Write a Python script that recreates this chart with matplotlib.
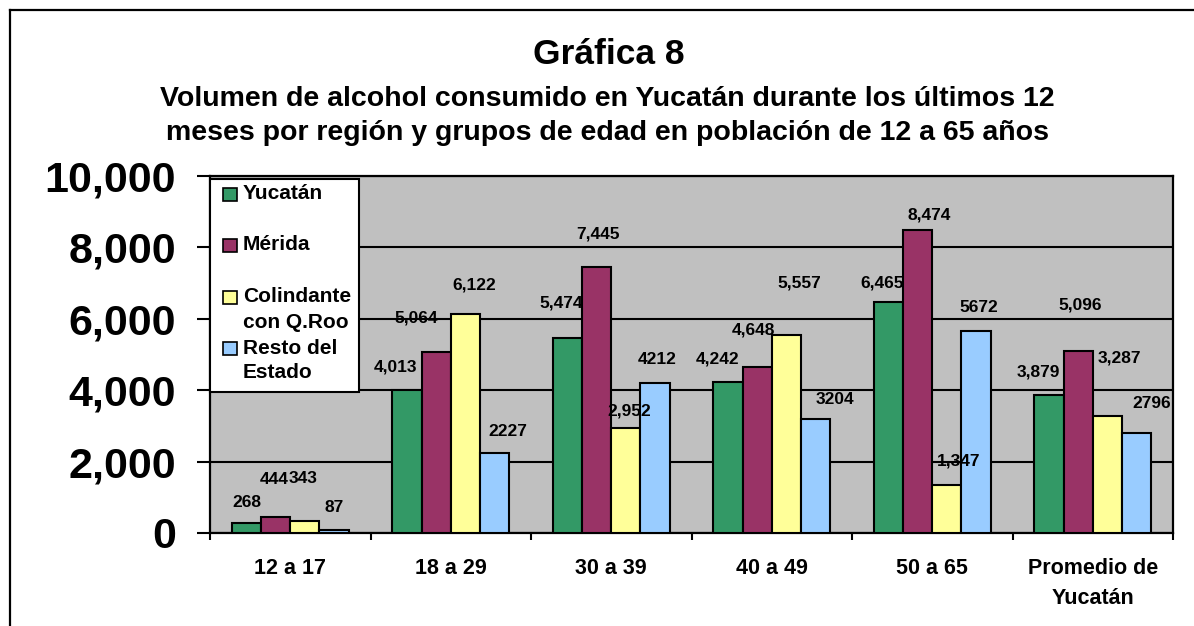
import matplotlib
matplotlib.use("Agg")
import matplotlib.pyplot as plt
from matplotlib.lines import Line2D
from matplotlib.patches import Rectangle
import numpy as np

plt.rcParams['font.family'] = ['Liberation Sans', 'DejaVu Sans']
plt.rcParams['font.weight'] = 'bold'

categories = ["12 a 17", "18 a 29", "30 a 39", "40 a 49", "50 a 65", "Promedio de\nYucatán"]
series_names = ["Yucatán", "Mérida", "Colindante\ncon Q.Roo", "Resto del\nEstado"]
yucatan = [268, 4013, 5474, 4242, 6465, 3879]
merida = [444, 5064, 7445, 4648, 8474, 5096]
colindante = [343, 6122, 2952, 5557, 1347, 3287]
resto = [87, 2227, 4212, 3204, 5672, 2796]
yticks = [0, 2000, 4000, 6000, 8000, 10000]

series = [yucatan, merida, colindante, resto]
colors = ["#339966", "#993366", "#FFFF99", "#99CCFF"]
use_comma = [True, True, True, False]

# label offsets (pixels) relative to top-center of each bar
label_dx = [[0, -11, -6, -10, -6, -11],
            [-1, -20, 1, -4, 12, 2],
            [-2, 9, 3, 13, 12, 12],
            [0, 13, 2, 19, 3, 15]]
label_dy = [[21, 23, 35, 23, 19, 23],
            [38, 34, 33, 37, 15, 46],
            [42, 29, 17, 52, 24, 58],
            [22, 22, 23, 19, 23, 30]]

W, H = 1194, 626
fig = plt.figure(figsize=(W / 100, H / 100), dpi=100)
fig.patch.set_facecolor("white")

# outer frame (left and top edges visible)
fig.add_artist(Line2D([10 / W, 10 / W], [0, 1 - 10 / H], transform=fig.transFigure, color="black", lw=1.6))
fig.add_artist(Line2D([10 / W, 1], [1 - 10 / H, 1 - 10 / H], transform=fig.transFigure, color="black", lw=1.6))

left, right, top, bottom = 210, 1173, 176, 533
ax = fig.add_axes([left / W, 1 - bottom / H, (right - left) / W, (bottom - top) / H])
ax.set_facecolor("#C0C0C0")

n = len(categories)
nser = len(series)
gap = 1.5
bw = 1.0 / (nser + gap)
x = np.arange(n)
for i, (vals, col) in enumerate(zip(series, colors)):
    pos = x - 0.5 + bw * gap / 2 + bw * (i + 0.5)
    ax.bar(pos, vals, width=bw, color=col, edgecolor="black", linewidth=1.5, zorder=3)
    for j, v in enumerate(vals):
        txt = f"{v:,}" if use_comma[i] else f"{v}"
        ax.annotate(txt, (pos[j], v), xytext=(label_dx[i][j], label_dy[i][j]),
                    textcoords="offset pixels", ha="center", va="center",
                    fontsize=12.5, fontweight="bold", zorder=5)

ax.set_xlim(-0.5, n - 0.5)
ax.set_ylim(0, 10000)
ax.set_yticks(yticks)
ax.set_yticklabels([f"{t:,}" for t in yticks], fontsize=31, fontweight="bold")
ax.yaxis.grid(True, color="black", linewidth=1.5, zorder=1)
ax.set_axisbelow(True)
ax.tick_params(axis="y", length=9.4, width=1.5, pad=15)

ax.set_xticks(x)
ax.set_xticklabels(categories, fontsize=15.5, fontweight="bold", linespacing=1.55)
ax.tick_params(axis="x", which="major", length=0, pad=18)
ax.set_xticks(np.arange(-0.5, n, 1.0), minor=True)
ax.tick_params(axis="x", which="minor", length=5, width=1.5)
for s in ax.spines.values():
    s.set_linewidth(1.6)

# legend (manual)
lg_l, lg_t, lg_r, lg_b = 210, 179, 359, 392
fig.add_artist(Rectangle((lg_l / W, 1 - lg_b / H), (lg_r - lg_l) / W, (lg_b - lg_t) / H,
                         transform=fig.transFigure, facecolor="white", edgecolor="black",
                         linewidth=1.5, zorder=10))
entry_y = [194, 245, 297, 348]
line_step = 25
for name, col, ey in zip(series_names, colors, entry_y):
    fig.add_artist(Rectangle((223 / W, 1 - (ey + 7) / H), 14 / W, 13 / H,
                             transform=fig.transFigure, facecolor=col, edgecolor="black",
                             linewidth=1.2, zorder=11))
    for k, line in enumerate(name.split("\n")):
        fig.text(243 / W, 1 - (ey + k * line_step) / H, line, fontsize=15, fontweight="bold",
                 ha="left", va="center", zorder=12)

# titles
fig.text(609 / W, 1 - 55 / H, "Gráfica 8", fontsize=25.5, fontweight="bold", ha="center", va="center")
fig.text(607 / W, 1 - 99 / H, "Volumen de alcohol consumido en Yucatán durante los últimos 12",
         fontsize=20.5, fontweight="bold", ha="center", va="center")
fig.text(607 / W, 1 - 133 / H, "meses por región y grupos de edad en población de 12 a 65 años",
         fontsize=20.5, fontweight="bold", ha="center", va="center")

fig.savefig("out.png", dpi=100, facecolor="white")
